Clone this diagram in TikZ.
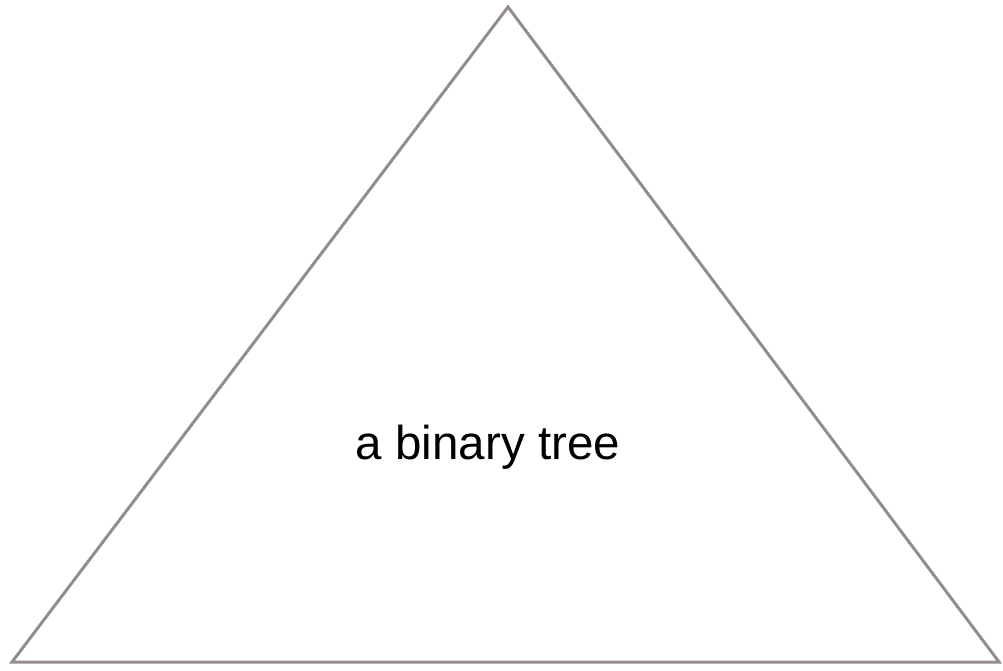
\documentclass[tikz,border=0pt]{standalone}
\usepackage{fontspec}
\setmainfont{Liberation Sans}
\definecolor{treegray}{HTML}{958C8C}
\begin{document}
\begin{tikzpicture}
[x=1pt, y=-1pt, font=\fontsize{47.5}{56}\selectfont]
\tikzstyle{outline}=[draw=treegray, line width=3pt]
\useasboundingbox (0,0) rectangle (1003,670);
\coordinate	(apex)	at (508,7);
\coordinate	(left)	at (12,662);
\coordinate	(right)	at (999,662);
\node[anchor=base]	(label)	at (488,459)	{a binary tree};

\draw[outline]	(apex)--(left)--(right)--cycle;
\end{tikzpicture}
\end{document}
